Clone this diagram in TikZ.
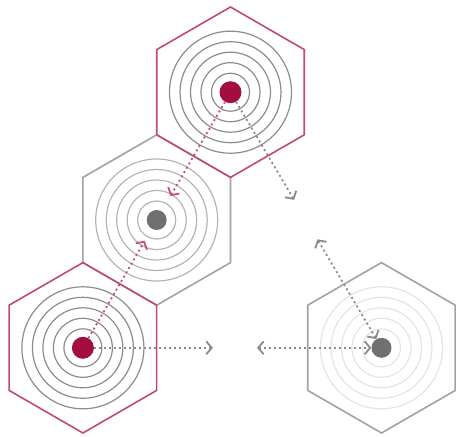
\documentclass[tikz,border=0pt]{standalone}
\usetikzlibrary{arrows.meta,calc}
\definecolor{hexred}{HTML}{BF4A72}
\definecolor{hexgray}{HTML}{A2A2A2}
\definecolor{dotred}{HTML}{A30D42}
\definecolor{dotgray}{HTML}{707070}
\definecolor{arrred}{HTML}{C4527C}
\definecolor{arrgray}{HTML}{8A8A8A}
\definecolor{ringdark}{HTML}{8C8C8C}
\definecolor{ringmid}{HTML}{B4B4B4}
\definecolor{ringlight}{HTML}{E4E4E4}
\begin{document}
\begin{tikzpicture}[x=1pt,y=-1pt,
  hexline/.style={line width=1.6pt, line join=miter},
  ring/.style={line width=1.2pt},
  reddot/.style={circle, fill=dotred, inner sep=0pt, minimum size=22pt},
  graydot/.style={circle, fill=dotgray, inner sep=0pt, minimum size=20pt},
  dotarrow/.style={line width=1.8pt, dash pattern=on 2pt off 3pt,
    arrows={-{Straight Barb[length=5.5pt,width=13pt,line width=1.8pt]}}},
  dotarrowboth/.style={line width=1.8pt, dash pattern=on 2pt off 3pt,
    arrows={{Straight Barb[length=5.5pt,width=13pt,line width=1.8pt]}-{Straight Barb[length=5.5pt,width=13pt,line width=1.8pt]}}}
]
\useasboundingbox (0,0) rectangle (456,437);
\def\R{85.2}
\coordinate (ct) at (230.5,92.2);
\coordinate (cm) at (156.7,220);
\coordinate (cb) at (82.9,347.8);
\coordinate (cr) at (381.5,347.8);

% rings
\foreach \r in {19,29.5,40,50.5,61} {
  \draw[ring, ringlight] (cr) circle[radius=\r];
  \draw[ring, ringmid] (cm) circle[radius=\r];
  \draw[ring, ringdark] (ct) circle[radius=\r];
  \draw[ring, ringdark] (cb) circle[radius=\r];
}

% hexagons (gray first, red on top)
\draw[hexline, hexgray] (cr) ++(90:\R) -- ++(210:\R) -- ++(270:\R) -- ++(330:\R) -- ++(30:\R) -- ++(90:\R) -- cycle;
\draw[hexline, hexgray] (cm) ++(90:\R) -- ++(210:\R) -- ++(270:\R) -- ++(330:\R) -- ++(30:\R) -- ++(90:\R) -- cycle;
\draw[hexline, hexred] (ct) ++(90:\R) -- ++(210:\R) -- ++(270:\R) -- ++(330:\R) -- ++(30:\R) -- ++(90:\R) -- cycle;
\draw[hexline, hexred] (cb) ++(90:\R) -- ++(210:\R) -- ++(270:\R) -- ++(330:\R) -- ++(30:\R) -- ++(90:\R) -- cycle;

% dots
\node[reddot] (dt) at (ct) {};
\node[graydot] (dm) at (cm) {};
\node[reddot] (db) at (cb) {};
\node[graydot] (dr) at (cr) {};

% arrow end points
\coordinate (tm) at ($(ct)!120pt!(cm)$);
\coordinate (bm) at ($(cb)!123.6pt!(cm)$);
\coordinate (tr) at ($(ct)!125pt!(cr)$);
\coordinate (rt) at ($(cr)!126pt!(ct)$);
\coordinate (rb) at ($(cr)!124.5pt!(cb)$);
\coordinate (br) at ($(cb)!130pt!(cr)$);

% arrows
\draw[dotarrow, arrred] (dt) -- (tm);
\draw[dotarrow, arrred] (db) -- (bm);
\draw[dotarrow, arrgray] (dt) -- (tr);
\draw[dotarrow, arrgray] (db) -- (br);
\draw[dotarrowboth, arrgray] (rt) -- (dr);
\draw[dotarrowboth, arrgray] (rb) -- (dr);
\end{tikzpicture}
\end{document}
